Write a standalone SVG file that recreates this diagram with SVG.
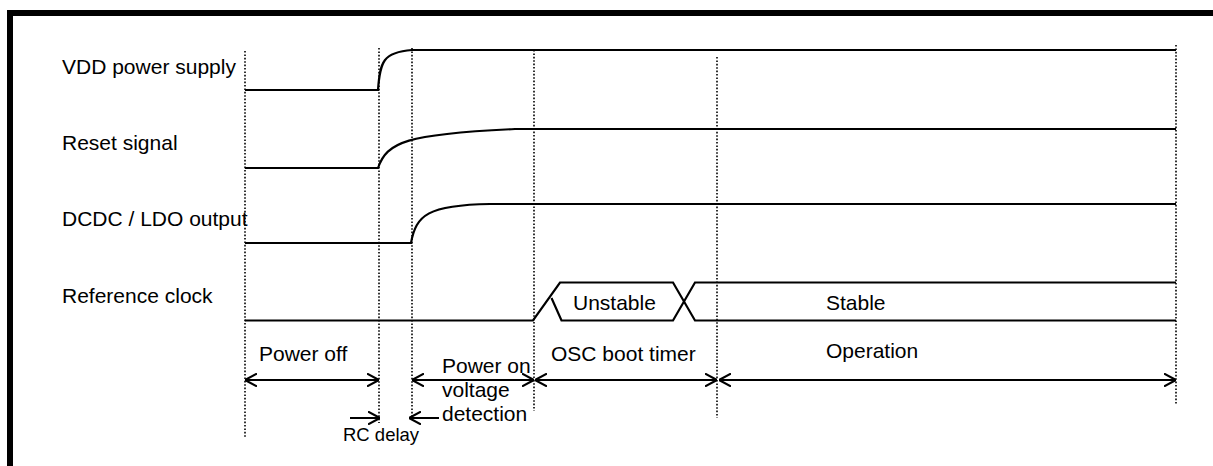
<svg xmlns="http://www.w3.org/2000/svg" width="1213" height="466" viewBox="0 0 1213 466">
<defs>
<style>
text{font-family:"Liberation Sans",Arial,sans-serif;font-size:21px;fill:#000}
.sig{fill:none;stroke:#000;stroke-width:2.2}
.dot{fill:none;stroke:#000;stroke-width:1.6;stroke-dasharray:1.6 1.8}
.arr{fill:none;stroke:#000;stroke-width:2}
.small{font-size:18.5px}
</style>
<marker id="ah" viewBox="0 0 12 14" refX="12" refY="7" markerWidth="12" markerHeight="14" orient="auto-start-reverse" markerUnits="userSpaceOnUse">
<path d="M0,0.5 L12,7 L0,13.5" fill="none" stroke="#000" stroke-width="2"/>
</marker>
</defs>
<rect width="1213" height="466" fill="#fff"/>
<g id="frame">
<rect x="7" y="10" width="1206" height="6" fill="#000"/>
<rect x="7" y="10" width="6" height="456" fill="#000"/>
</g>
<g id="guides">
<line class="dot" x1="245" y1="51" x2="245" y2="437"/>
<line class="dot" x1="379" y1="48" x2="379" y2="423"/>
<line class="dot" x1="412" y1="48" x2="412" y2="420"/>
<line class="dot" x1="534" y1="50" x2="534" y2="411"/>
<line class="dot" x1="717" y1="57" x2="717" y2="418"/>
<line class="dot" x1="1176" y1="45" x2="1176" y2="405"/>
</g>
<g id="vdd">
<text x="62" y="74">VDD power supply</text>
<path class="sig" d="M245,90 H378 C380,62 383,52 412,50 H1176"/>
</g>
<g id="reset">
<text x="62" y="150">Reset signal</text>
<path class="sig" d="M245,168 H378 C387,142 406,134 515,129 H1176"/>
</g>
<g id="dcdc">
<text x="62" y="226">DCDC / LDO output</text>
<path class="sig" d="M245,243 H411 C416,215 428,205 490,204 H1176"/>
</g>
<g id="refclk">
<text x="62" y="303">Reference clock</text>
<path class="sig" d="M245,320.5 H533 L560,282.5 H673 L695,320.5 H1176"/>
<path class="sig" d="M551.5,298 L561.5,320.5 H673 L695,282.5 H1176"/>
<text x="573" y="310">Unstable</text>
<text x="826" y="310">Stable</text>
</g>
<g id="phase-labels">
<text x="259" y="361">Power off</text>
<text x="442" y="373">Power on</text>
<text x="442" y="397">voltage</text>
<text x="442" y="421">detection</text>
<text x="551" y="361">OSC boot timer</text>
<text x="826" y="358">Operation</text>
<text class="small" x="343" y="441">RC delay</text>
</g>
<g id="connectors">
<line class="arr" x1="245" y1="380" x2="379" y2="380" marker-start="url(#ah)" marker-end="url(#ah)"/>
<line class="arr" x1="412" y1="380" x2="534" y2="380" marker-start="url(#ah)" marker-end="url(#ah)"/>
<line class="arr" x1="535" y1="380" x2="717" y2="380" marker-start="url(#ah)" marker-end="url(#ah)"/>
<line class="arr" x1="719" y1="380" x2="1176" y2="380" marker-start="url(#ah)" marker-end="url(#ah)"/>
<line class="arr" x1="350" y1="418" x2="380" y2="418" marker-end="url(#ah)"/>
<line class="arr" x1="439" y1="418" x2="409" y2="418" marker-end="url(#ah)"/>
</g>
</svg>
